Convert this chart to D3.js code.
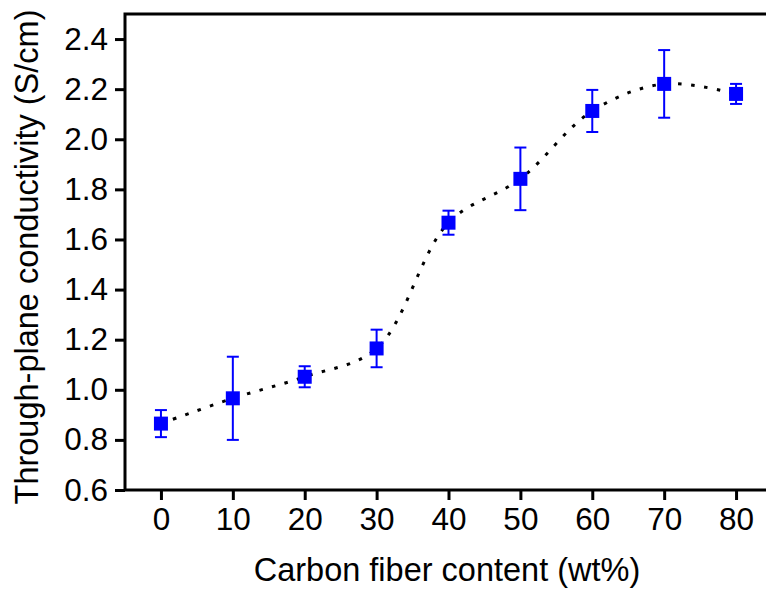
<!DOCTYPE html>
<html>
<head>
<meta charset="utf-8">
<script src="https://cdn.jsdelivr.net/npm/d3@7"></script>
<style>
  body { margin: 0; background: #fff; }
  svg { display: block; font-family: Arial, "Liberation Sans", sans-serif; }
</style>
</head>
<body>
<div id="chart"></div>
<script>
// carbon fiber content (wt%)
const content = [0, 10, 20, 30, 40, 50, 60, 70, 80];
// through-plane conductivity (S/cm), mean and std dev
const conductivity = [0.865, 0.966, 1.052, 1.165, 1.667, 1.842, 2.113, 2.221, 2.181];
const errors = [0.054, 0.166, 0.042, 0.075, 0.048, 0.125, 0.084, 0.135, 0.040];
const xTicks = [0, 10, 20, 30, 40, 50, 60, 70, 80];
const yTicks = [0.6, 0.8, 1.0, 1.2, 1.4, 1.6, 1.8, 2.0, 2.2, 2.4];

const width = 766, height = 590;
const margin = { top: 14, right: -6, bottom: 100, left: 125 };
const fontFamily = 'Arial, "Liberation Sans", sans-serif';

const data = content.map((c, i) => ({ x: c, y: conductivity[i], e: errors[i] }));

const svg = d3.select('#chart').append('svg')
  .attr('width', width).attr('height', height);

const x = d3.scaleLinear().domain([-5, 85]).range([margin.left, width - margin.right]);
const y = d3.scaleLinear().domain([0.6, 2.5]).range([height - margin.bottom, margin.top]);

// frame (left, top, bottom; right edge lies outside the window)
svg.append('rect')
  .attr('x', x(-5)).attr('y', y(2.5))
  .attr('width', x(85) - x(-5)).attr('height', y(0.6) - y(2.5))
  .attr('fill', 'none').attr('stroke', '#000').attr('stroke-width', 3);

const xAxis = svg.append('g')
  .attr('transform', `translate(0,${y(0.6)})`)
  .call(d3.axisBottom(x).tickValues(xTicks).tickSize(10).tickPadding(8).tickFormat(d3.format('d')));
xAxis.select('.domain').remove();
xAxis.selectAll('.tick line').attr('stroke-width', 3);
xAxis.selectAll('.tick text').attr('font-size', 31.5).attr('fill', '#000')
  .attr('font-family', fontFamily);

const yAxis = svg.append('g')
  .attr('transform', `translate(${x(-5)},0)`)
  .call(d3.axisLeft(y).tickValues(yTicks).tickSize(10).tickPadding(7).tickFormat(d3.format('.1f')));
yAxis.select('.domain').remove();
yAxis.selectAll('.tick line').attr('stroke-width', 3);
yAxis.selectAll('.tick text').attr('font-size', 31.5).attr('fill', '#000')
  .attr('font-family', fontFamily);

// dotted trend line
const line = d3.line().x(d => x(d.x)).y(d => y(d.y)).curve(d3.curveCatmullRom);
svg.append('path')
  .datum(data)
  .attr('d', line)
  .attr('fill', 'none')
  .attr('stroke', '#000')
  .attr('stroke-width', 3)
  .attr('stroke-dasharray', '3.5,9.5');

// error bars
const bars = svg.append('g').attr('stroke', '#0000ff').attr('stroke-width', 2);
bars.selectAll('.err').data(data).enter().append('line')
  .attr('x1', d => x(d.x)).attr('x2', d => x(d.x))
  .attr('y1', d => y(d.y - d.e)).attr('y2', d => y(d.y + d.e));
bars.selectAll('.cap-top').data(data).enter().append('line')
  .attr('x1', d => x(d.x) - 6).attr('x2', d => x(d.x) + 6)
  .attr('y1', d => y(d.y + d.e)).attr('y2', d => y(d.y + d.e));
bars.selectAll('.cap-bottom').data(data).enter().append('line')
  .attr('x1', d => x(d.x) - 6).attr('x2', d => x(d.x) + 6)
  .attr('y1', d => y(d.y - d.e)).attr('y2', d => y(d.y - d.e));

// square markers
svg.append('g').selectAll('rect').data(data).enter().append('rect')
  .attr('x', d => x(d.x) - 7).attr('y', d => y(d.y) - 7)
  .attr('width', 14).attr('height', 14)
  .attr('fill', '#0000ff');

// axis titles
svg.append('text')
  .attr('x', 447).attr('y', 581)
  .attr('text-anchor', 'middle')
  .attr('font-size', 32.5)
  .text('Carbon fiber content (wt%)');

svg.append('text')
  .attr('transform', `translate(38,${257}) rotate(-90)`)
  .attr('text-anchor', 'middle')
  .attr('font-size', 32.5)
  .text('Through-plane conductivity (S/cm)');
</script>
</body>
</html>
